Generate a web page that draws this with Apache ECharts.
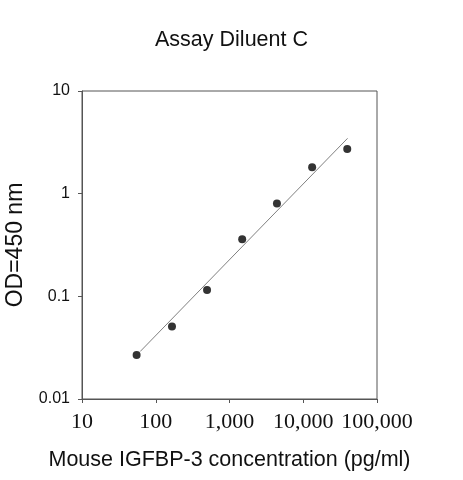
<!DOCTYPE html>
<html>
<head>
<meta charset="utf-8">
<script src="https://cdn.jsdelivr.net/npm/echarts@6/dist/echarts.min.js"></script>
<style>html,body{margin:0;padding:0;background:#fff;}#c{width:463px;height:480px;}</style>
</head>
<body>
<div id="c"></div>
<script>
// Data
var concentrations = [55, 166, 496, 1486, 4400, 13200, 39500];
var odValues = [0.0269, 0.0507, 0.115, 0.360, 0.80, 1.81, 2.72];
var fitX = [61.5, 39900];
var fitY = [0.029, 3.46];
var xTickLabels = {10: '10', 100: '100', 1000: '1,000', 10000: '10,000', 100000: '100,000'};
var yTickLabels = {0.01: '0.01', 0.1: '0.1', 1: '1', 10: '10'};

var points = concentrations.map(function (c, i) { return [c, odValues[i]]; });
var fitLine = fitX.map(function (x, i) { return [x, fitY[i]]; });

var chart = echarts.init(document.getElementById('c'));
chart.setOption({
  backgroundColor: '#fff',
  animation: false,
  title: {
    text: 'Assay Diluent C',
    left: 'center',
    top: 24,
    textStyle: { fontFamily: 'Liberation Sans, Arial', fontSize: 21.5, fontWeight: 'normal', color: '#111' }
  },
  grid: { left: 82, top: 91, width: 295, height: 308, outerBoundsMode: 'none', containLabel: false, show: true, borderColor: '#555', borderWidth: 1, backgroundColor: 'transparent' },
  xAxis: {
    type: 'log', logBase: 10, min: 10, max: 100000,
    name: 'Mouse IGFBP-3 concentration (pg/ml)',
    nameLocation: 'middle', nameGap: 50,
    nameTextStyle: { fontFamily: 'Liberation Sans, Arial', fontSize: 21.5, color: '#111' },
    axisLine: { show: true, lineStyle: { color: '#555', width: 1 } },
    axisTick: { show: true, inside: false, length: 4, lineStyle: { color: '#555' } },
    minorTick: { show: false },
    splitLine: { show: false },
    axisLabel: {
      margin: 12, fontFamily: 'Liberation Serif, Times New Roman', fontSize: 22, color: '#111',
      hideOverlap: false,
      formatter: function (v) { return xTickLabels[Math.round(v)] || ''; }
    }
  },
  yAxis: {
    type: 'log', logBase: 10, min: 0.01, max: 10,
    name: 'OD=450 nm',
    nameLocation: 'middle', nameGap: 55,
    nameTextStyle: { fontFamily: 'Liberation Sans, Arial', fontSize: 23, color: '#111' },
    axisLine: { show: true, lineStyle: { color: '#555', width: 1 } },
    axisTick: { show: true, inside: false, length: 4, lineStyle: { color: '#555' } },
    splitLine: { show: false },
    axisLabel: {
      margin: 12, fontFamily: 'Liberation Sans, Arial', fontSize: 16, color: '#111',
      formatter: function (v) {
        var k = Math.round(Math.log10(v));
        return yTickLabels[Math.pow(10, k)] || String(v);
      }
    }
  },
  series: [
    {
      type: 'line', data: fitLine, symbol: 'none', silent: true,
      lineStyle: { color: '#808080', width: 1 }
    },
    {
      type: 'scatter', data: points, symbol: 'circle', symbolSize: 8,
      itemStyle: { color: '#000' }
    }
  ]
});
</script>
</body>
</html>
